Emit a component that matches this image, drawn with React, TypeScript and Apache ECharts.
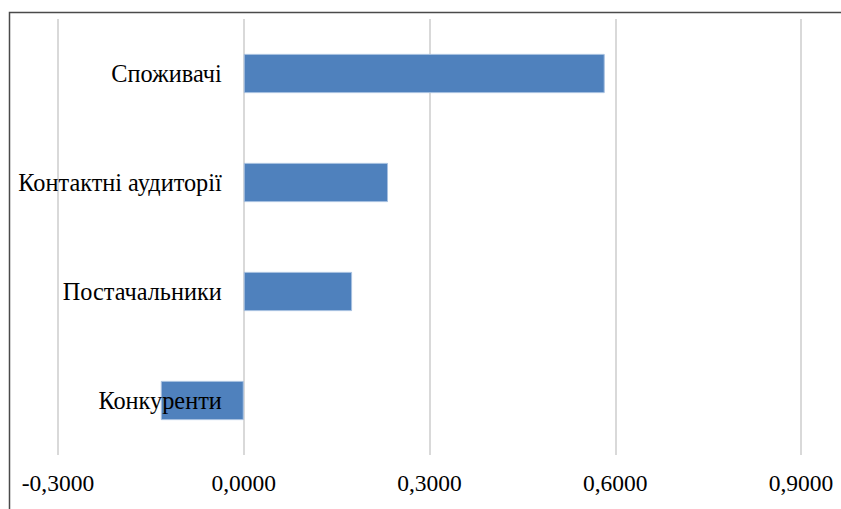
import React, { useEffect, useRef } from "react";
import * as echarts from "echarts";

const categories = ["Конкуренти", "Постачальники", "Контактні аудиторії", "Споживачі"];
const values = [-0.134, 0.175, 0.233, 0.583];
const xMin = -0.3;
const xMax = 0.9;
const xStep = 0.3;

export default function App() {
  const ref = useRef<HTMLDivElement>(null);
  useEffect(() => {
    if (!ref.current) return;
    const chart = echarts.init(ref.current, null, { renderer: "svg" });
    const font = "Liberation Serif";
    chart.setOption({
      animation: false,
      backgroundColor: "#ffffff",
      grid: { left: 58, right: 40, top: 19, bottom: 54, containLabel: false, outerBoundsMode: "none" },
      xAxis: {
        type: "value",
        min: xMin,
        max: xMax,
        interval: xStep,
        axisLine: { show: false },
        axisTick: { show: false },
        splitLine: { show: true, lineStyle: { color: "#d9d9d9", width: 2 } },
        axisLabel: {
          color: "#000",
          fontFamily: font,
          fontSize: 23.5,
          margin: 16,
          formatter: (v: number) => v.toFixed(4).replace(".", ","),
        },
      },
      yAxis: {
        type: "category",
        data: categories,
        axisLine: { show: false },
        axisTick: { show: false },
        splitLine: { show: false },
        axisLabel: { show: false },
      },
      series: [
        {
          type: "bar",
          data: values,
          barWidth: "36%",
          z: 2,
          itemStyle: { color: "#4f81bd", borderColor: "#a7c0e0", borderWidth: 1 },
        },
        {
          type: "bar",
          data: categories.map(() => 0),
          barWidth: "36%",
          barGap: "-100%",
          z: 5,
          silent: true,
          itemStyle: { color: "transparent", borderWidth: 0 },
          label: {
            show: true,
            position: "left",
            distance: 22,
            formatter: "{b}",
            color: "#000",
            fontFamily: font,
            fontSize: 24.3,
          },
        },
      ],
      graphic: [
        {
          type: "rect",
          left: 7,
          top: 10,
          shape: { x: 0, y: 0, width: 900, height: 600 },
          style: { fill: "none", stroke: "#4a4a4a", lineWidth: 1.5 },
          silent: true,
        },
      ],
    });
    return () => chart.dispose();
  }, []);
  return (
    <div
      ref={ref}
      style={{ position: "fixed", left: 0, top: 0, width: 841, height: 509 }}
    />
  );
}
